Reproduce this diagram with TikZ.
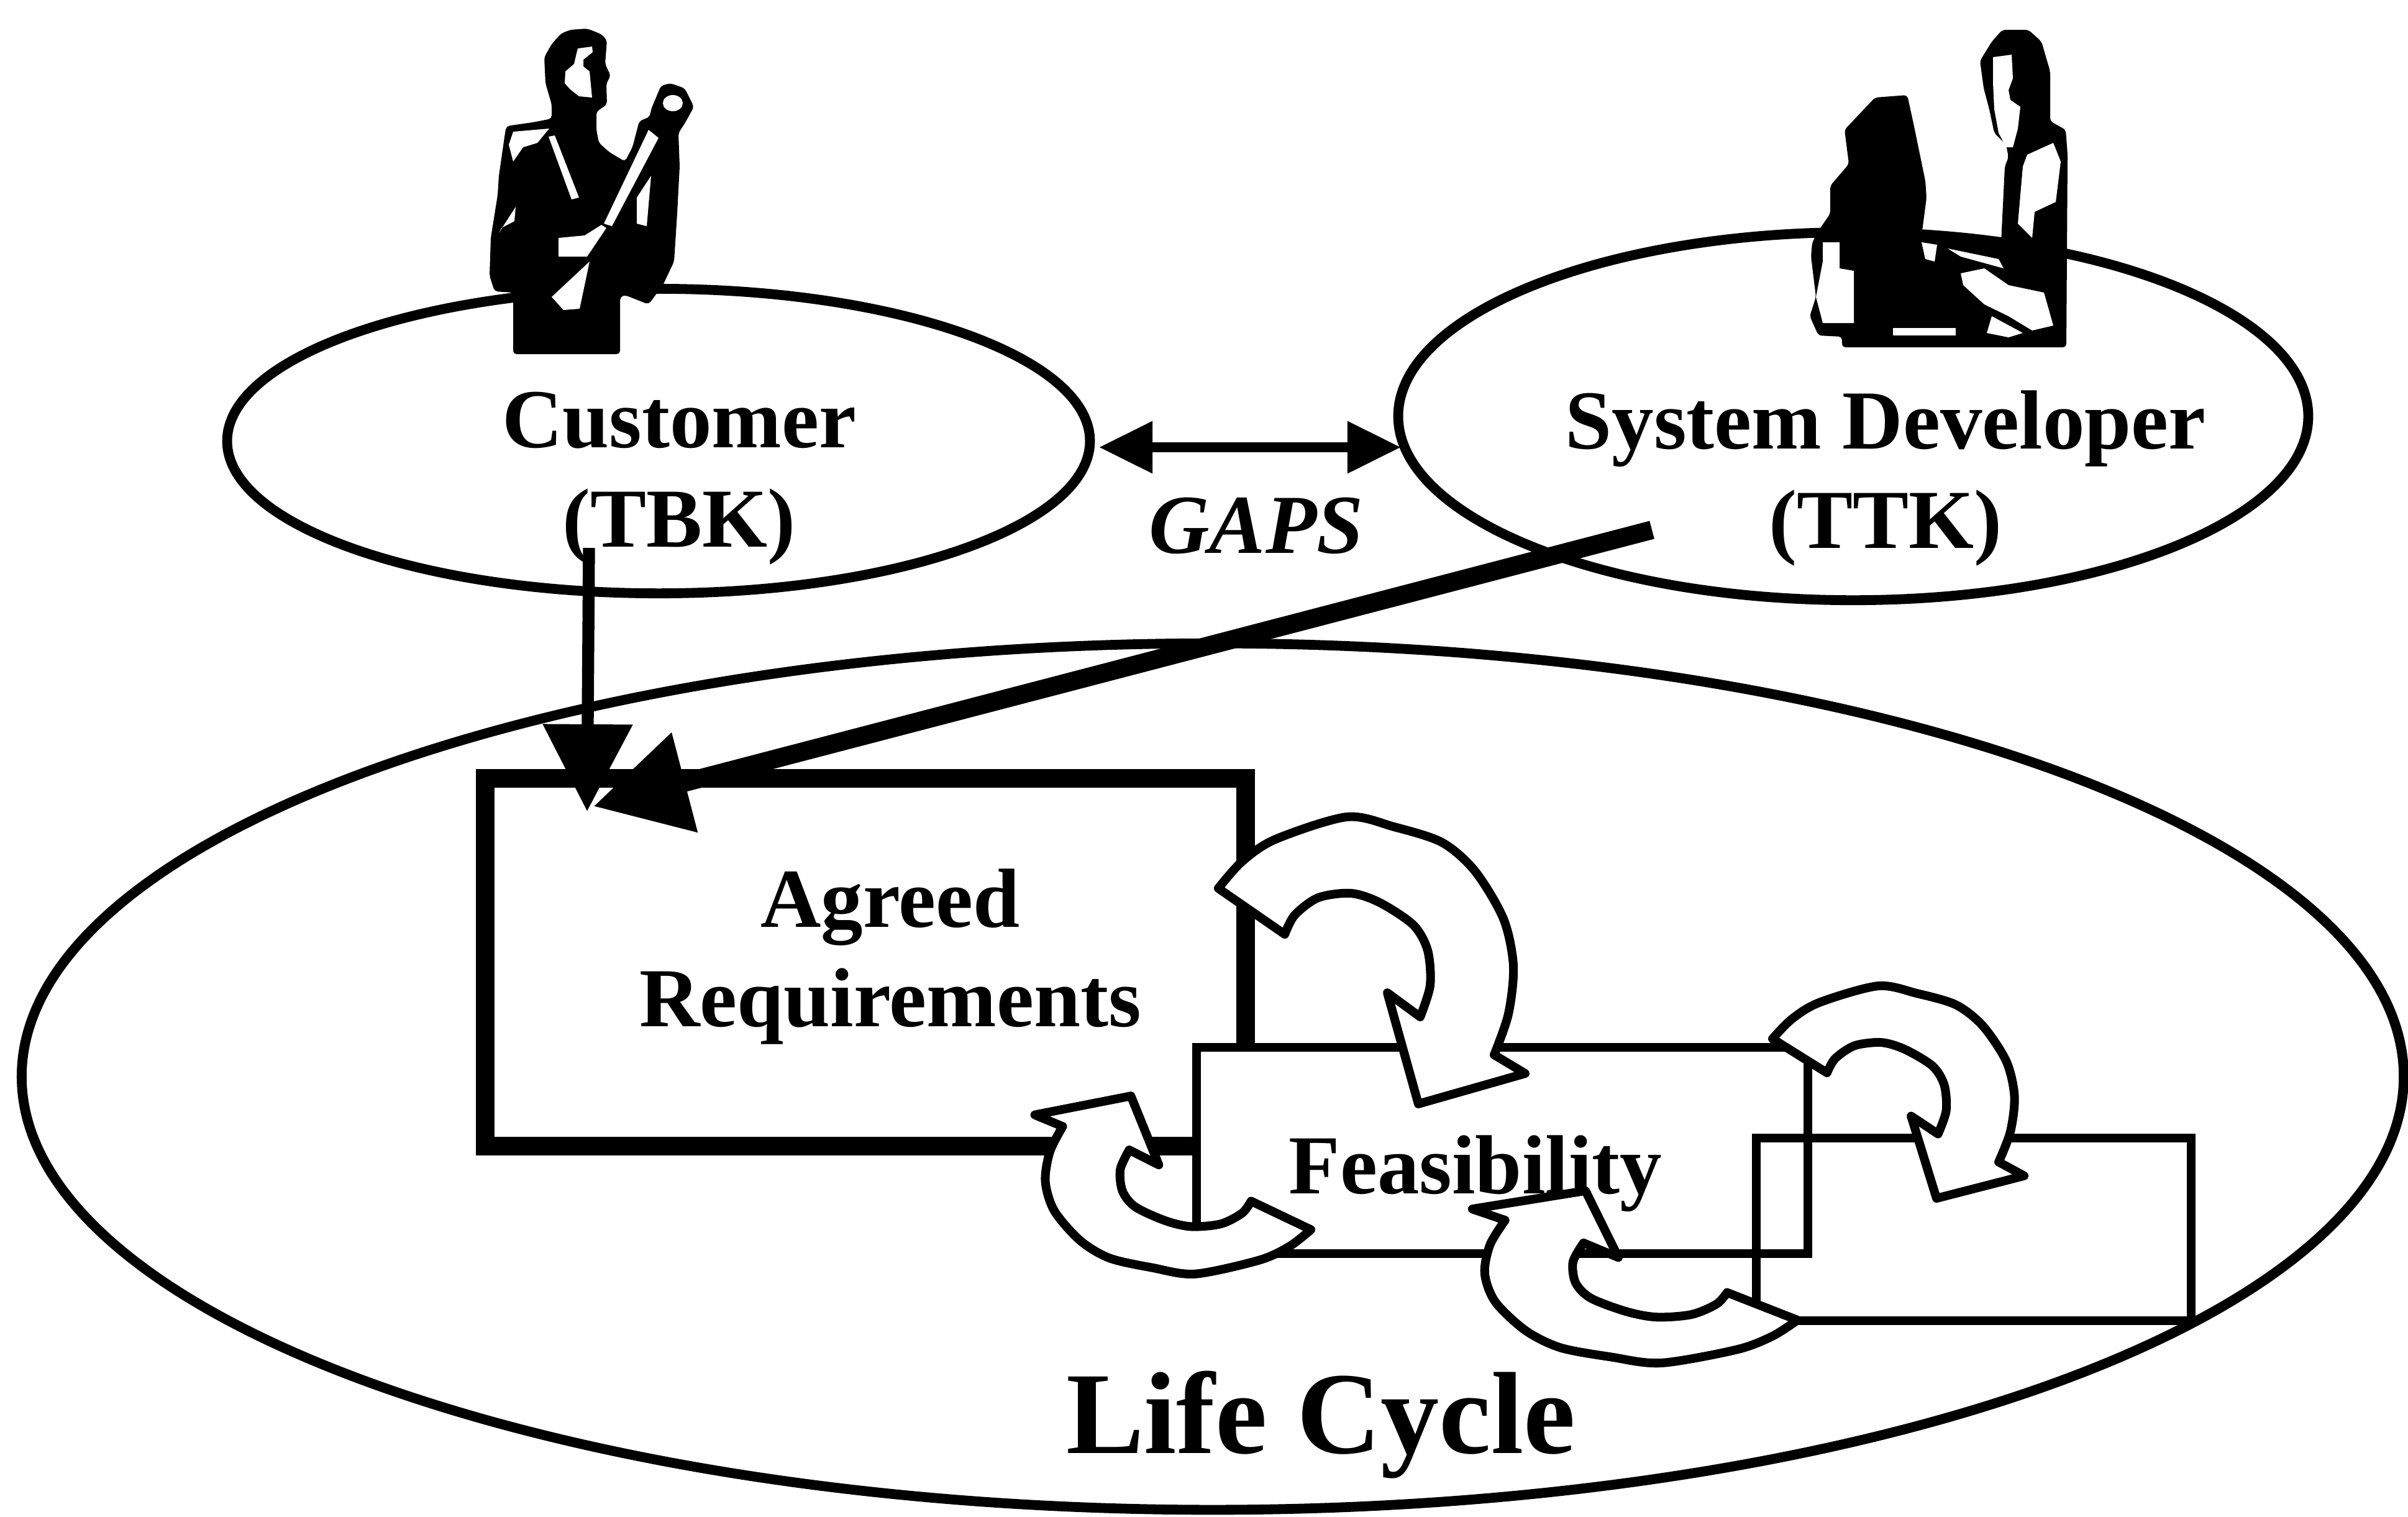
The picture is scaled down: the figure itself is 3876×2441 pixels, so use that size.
\documentclass[tikz,border=0pt]{standalone}
\usepackage{fontspec}
\setmainfont{Liberation Serif}
\usetikzlibrary{positioning,arrows.meta}
\usetikzlibrary{shapes.geometric}
\tikzset{
    x=0.01cm, y=-0.01cm, % one unit = one pixel, y grows downwards
    lbl/.style={font=\bfseries\fontsize{38.4}{45.5}\selectfont, align=center, inner sep=0pt}, % all the texts
    actor/.style={ellipse, draw, line width=4.5pt, inner sep=0pt}, % customer, developer, life cycle
    stage/.style={rectangle, draw, line width=4pt, inner sep=0pt}, % steps of the life cycle
    flow/.style={line width=5.5pt, -{Triangle[length=1.4cm, width=1.4cm]}},
    gapsline/.style={line width=4.5pt, >={Triangle[length=0.86cm, width=0.8cm]}, <->},
    arrowbody/.style={draw, fill=white, line width=4pt, line join=round},
    % hollow bent arrow between two steps
    turnarrow/.pic={
        \path[arrowbody] (-239,-120)
          -- plot[smooth] coordinates {(-239,-120) (-201,-163) (-147,-199) (-32,-235) (44,-219) (121,-194) (174,-148) (220,-71) (236,5) (228,82) (205,148)}
          -- (255,178) -- (83,227) -- (33,48)
          -- plot[smooth] coordinates {(86,87) (102,36) (98,-20) (75,-61) (21,-97) (-25,-112) (-78,-105) (-116,-77) (-132,-46)}
          -- cycle;
    },
}

\begin{document}
\begin{tikzpicture}[on grid]
      \useasboundingbox (0,0) rectangle (3876,2441);

      % the big ellipse and the two parties
      \node (q_lifecycle) [actor, minimum width=38.32cm, minimum height=13.94cm] at (1952,1733) {};
      \node (q_customer) [actor, minimum width=13.88cm, minimum height=4.9cm] at (1060,710) {};
      \node (q_developer) [actor, minimum width=14.64cm, minimum height=5.92cm] at (2983,670) {};

      % customer figure
      \fill[rounded corners=1.5pt] (876,92) -- (888,71) -- (903,54) -- (918,48) -- (945,46) -- (968,55) -- (977,65) -- (974,103) -- (983,122) -- (976,134) -- (977,168) -- (960,180) -- (960,209) -- (964,230) -- (981,245) -- (1006,260) -- (1018,237) -- (1029,195) -- (1046,188) -- (1048,176) -- (1064,138) -- (1079,134) -- (1102,142) -- (1117,172) -- (1102,199) -- (1092,214) -- (1094,268) -- (1090,344) -- (1085,421) -- (1067,459) -- (1064,463) -- (1044,490) -- (1006,475) -- (998,478) -- (998,570) -- (826,570) -- (826,471) -- (796,469) -- (788,444) -- (790,383) -- (801,314) -- (803,283) -- (813,214) -- (815,203) -- (857,197) -- (888,191) -- (888,168) -- (878,134) -- cycle;
      \fill[white] (930,78) -- (953,75) -- (954,84) -- (939,96) -- (939,107) -- (949,115) -- (953,157) -- (932,155) -- (918,144) -- (909,134) -- (910,115) -- (924,103) -- (928,86) -- cycle;
      \fill[white] (972,360) -- (1044,209) -- (1060,222) -- (985,364) -- cycle;
      \fill[white] (1083,166) ellipse [x radius=0.16cm, y radius=0.13cm];
      \fill[white] (883,220) -- (893,218) -- (932,318) -- (920,321) -- cycle;
      \fill[white] (826,212) -- (884,207) -- (865,230) -- (842,237) -- (826,260) -- (819,233) -- cycle;
      \fill[white] (899,383) -- (941,379) -- (968,362) -- (976,367) -- (945,413) -- (899,413) -- cycle;
      \fill[white] (888,478) -- (949,421) -- (933,497) -- (907,499) -- cycle;
      \fill[white] (1025,318) -- (1048,283) -- (1041,364) -- (1025,360) -- cycle;
      \fill[white] (803,375) -- (830,333) -- (828,356) -- (807,367) -- cycle;

      % developer at his computer
      \fill[rounded corners=1.5pt] (3187,98) -- (3206,67) -- (3223,48) -- (3265,48) -- (3286,67) -- (3300,115) -- (3300,195) -- (3325,209) -- (3328,249) -- (3326,559) -- (2965,559) -- (2965,542) -- (2927,540) -- (2913,509) -- (2923,478) -- (2915,413) -- (2917,390) -- (2930,367) -- (2946,344) -- (2946,299) -- (2976,264) -- (2969,209) -- (3018,157) -- (3070,153) -- (3080,199) -- (3099,291) -- (3101,318) -- (3093,379) -- (3133,383) -- (3221,390) -- (3227,268) -- (3233,253) -- (3229,233) -- (3210,214) -- (3202,176) -- (3193,142) -- cycle;
      \fill[white] (3208,92) -- (3238,88) -- (3240,126) -- (3233,145) -- (3236,161) -- (3252,172) -- (3248,207) -- (3240,237) -- (3229,237) -- (3217,214) -- (3210,176) -- (3208,134) -- cycle;
      \fill[white] (3263,249) -- (3305,230) -- (3317,260) -- (3309,325) -- (3275,341) -- (3271,383) -- (3248,360) -- (3256,268) -- cycle;
      \fill[white] (3156,440) -- (3194,432) -- (3233,459) -- (3290,471) -- (3305,524) -- (3271,532) -- (3233,509) -- (3194,490) -- (3160,459) -- cycle;
      \fill[white] (3206,509) -- (3256,536) -- (3233,543) -- (3198,536) -- cycle;
      \fill[white] (3047,528) rectangle (3148,540);
      \fill[white] (2934,390) -- (2961,390) -- (2961,432) -- (2984,436) -- (2984,520) -- (2934,520) -- (2923,478) -- (2934,421) -- cycle;
      \fill[white] (3093,390) -- (3118,394) -- (3114,421) -- (3099,417) -- cycle;
      \fill[white] (3135,400) -- (3217,417) -- (3225,432) -- (3156,413) -- cycle;

      % steps
      \node (q_agreed) [stage, line width=8.5pt, minimum width=12.24cm, minimum height=5.92cm] at (1393,1549) {};
      \node (q_feas) [stage, fill=white, minimum width=9.83cm, minimum height=3.31cm] at (2418,1852) {};
      \node (q_next) [stage, minimum width=6.99cm, minimum height=2.93cm] at (3177,1979) {};

      % turning arrows between the steps
      \pic at (2200,1550) {turnarrow};
      \pic[xscale=0.82, yscale=0.74] at (3049,1761) {turnarrow};
      \pic[rotate=180, xscale=0.9, yscale=0.62] at (1895,1905) {turnarrow};
      \pic[rotate=180, xscale=1.06, yscale=0.6] at (2640,2053) {turnarrow};

      % texts
      \node (q_customer_txt) [lbl, below right=0.6cm and 0.33cm of q_customer] {Customer\\(TBK)};
      \node (q_developer_txt) [lbl, below right=1.0cm and 0.52cm of q_developer] {System Developer\\(TTK)};
      \node (q_agreed_txt) [lbl, above right=0.09cm and 0.4cm of q_agreed] {Agreed\\Requirements};
      \node (q_feas_txt) [lbl, below left=0.37cm and 0.43cm of q_feas] {Feasibility};
      \node (q_lifecycle_txt) [lbl, font=\bfseries\fontsize{53.5}{60}\selectfont, below right=5.6cm and 1.74cm of q_lifecycle] {Life Cycle};
      \node (q_gaps) [lbl, font=\bfseries\itshape\fontsize{38.4}{45.5}\selectfont] at (2022,846) {GAPS};

      % connectors
      \coordinate (q_gap_l) at (1769,720);
      \coordinate (q_gap_r) at (2255,720);
      \coordinate (q_tbk_out) at (948,882);
      \coordinate (q_ttk_out) at (2659,853);
      \coordinate (q_req_in) at (945,1306);
      \coordinate (q_req_in2) at (955,1298);
      \path[flow]
      (q_tbk_out)   edge  (q_req_in)
      (q_ttk_out)   edge[line width=8.5pt, -{Triangle[length=1.52cm, width=1.58cm]}]  (q_req_in2)
      (q_gap_l)     edge[gapsline]  (q_gap_r)
      ;
\end{tikzpicture}
\end{document}
